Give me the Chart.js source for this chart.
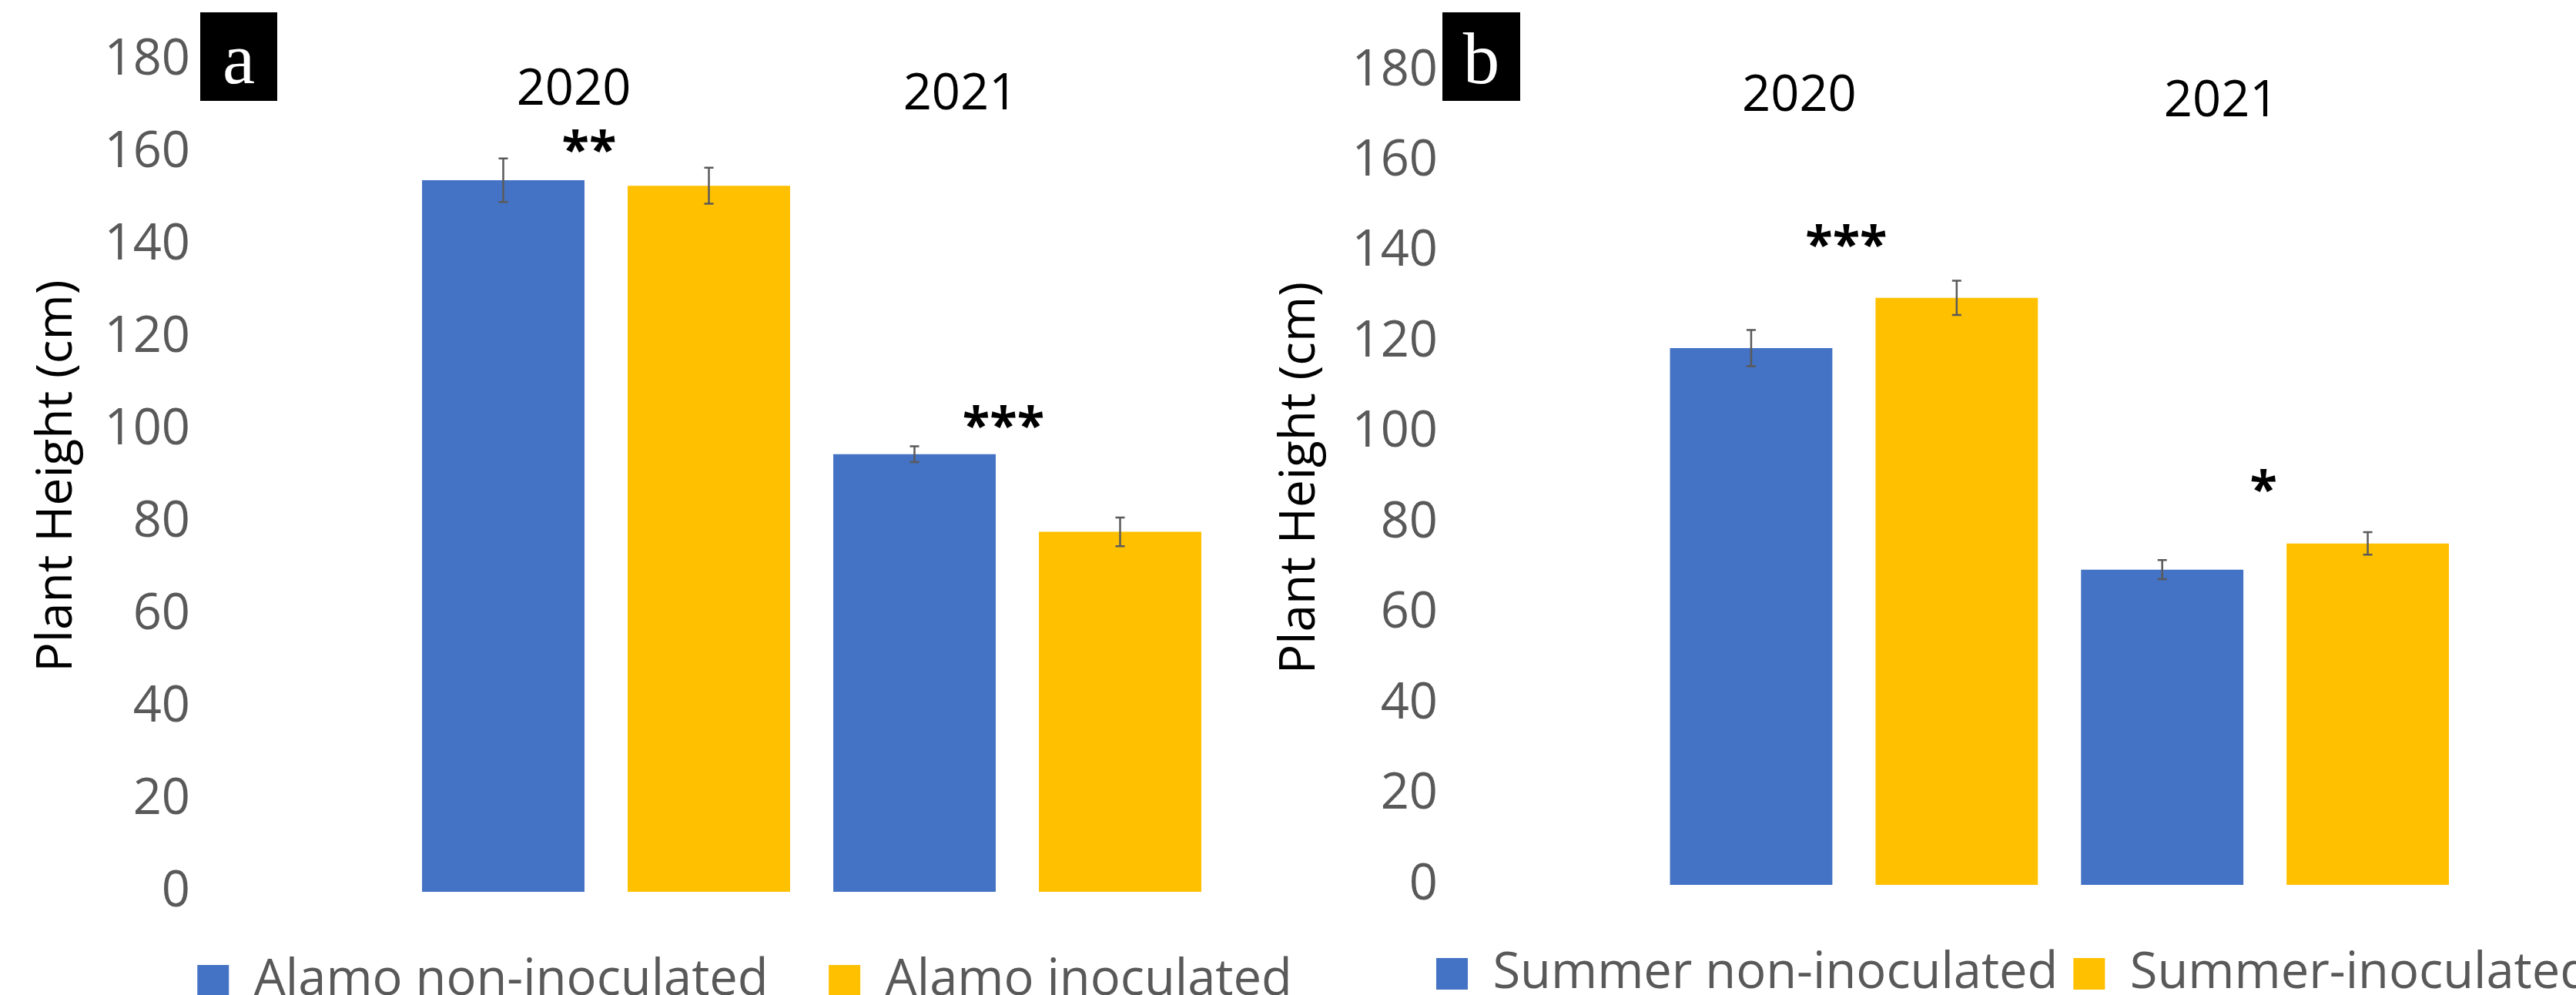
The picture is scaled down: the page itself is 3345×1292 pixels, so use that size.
<!DOCTYPE html>
<html>
<head>
<meta charset="utf-8">
<title>Plant Height</title>
<script src="https://cdn.jsdelivr.net/npm/chart.js@4.4.1/dist/chart.umd.min.js"></script>
<style>
  html, body { margin: 0; padding: 0; background: #ffffff; overflow: hidden; width: 3345px; height: 1292px; }
  canvas { position: absolute; top: 0; }
  #chartA { left: 0; }
  #chartB { left: 1640px; }
</style>
</head>
<body>
<canvas id="chartA" width="1934" height="1316"></canvas>
<canvas id="chartB" width="1949" height="1307"></canvas>
<script>
// Plant height means (cm) with standard errors, by year
const years = ['2020', '2021'];

const alamoNonInoculated    = [154.0, 94.7];
const alamoNonInoculatedSE  = [4.7, 1.7];
const alamoInoculated       = [152.8, 77.9];
const alamoInoculatedSE     = [3.9, 3.1];

const summerNonInoculated   = [118.7, 69.7];
const summerNonInoculatedSE = [4.0, 2.1];
const summerInoculated      = [129.8, 75.5];
const summerInoculatedSE    = [3.8, 2.5];

// significance markers per year and the height (cm) they sit at
const alamoSignif       = ['**', '***'];
const alamoSignifAt     = [162.5, 102.7];
const summerSignif      = ['***', '*'];
const summerSignifAt    = [143.4, 89.3];

const yMin = 0, yMax = 180, yStep = 20;

const BLUE = '#4472C4';
const GOLD = '#FFC000';
const FONT = '"Open Sans"';

// draws text so that its ink is centred on (x, y)
function fillCentered(ctx, text, x, y) {
  const m = ctx.measureText(text);
  ctx.fillText(text, x, y + (m.actualBoundingBoxAscent - m.actualBoundingBoxDescent) / 2);
}

// error bars, year captions, significance stars and the panel tag
const panelMarks = {
  id: 'panelMarks',
  afterDatasetsDraw(chart, args, opts) {
    const ctx = chart.ctx;
    const xs = chart.scales.x, ys = chart.scales.y;
    ctx.save();

    ctx.strokeStyle = opts.errorColor;
    ctx.lineWidth = opts.errorWidth;
    chart.data.datasets.forEach((ds, di) => {
      const meta = chart.getDatasetMeta(di);
      meta.data.forEach((bar, i) => {
        const v = ds.data[i], e = ds.errors[i];
        const top = ys.getPixelForValue(v + e);
        const bot = ys.getPixelForValue(v - e);
        const cap = opts.capHalf;
        ctx.beginPath();
        ctx.moveTo(bar.x, top); ctx.lineTo(bar.x, bot);
        ctx.moveTo(bar.x - cap, top); ctx.lineTo(bar.x + cap, top);
        ctx.moveTo(bar.x - cap, bot); ctx.lineTo(bar.x + cap, bot);
        ctx.stroke();
      });
    });

    ctx.fillStyle = '#000000';
    ctx.textAlign = 'center';
    ctx.textBaseline = 'alphabetic';
    ctx.font = `${opts.captionSize}px ${FONT}`;
    chart.data.labels.forEach((lab, i) => {
      const c = opts.captions[i];
      fillCentered(ctx, lab, xs.getPixelForValue(i) + c.dx, ys.getPixelForValue(c.at));
    });

    ctx.font = `bold ${opts.captionSize}px ${FONT}`;
    opts.stars.forEach((s, i) => {
      fillCentered(ctx, s, xs.getPixelForValue(i) + opts.starDx[i], ys.getPixelForValue(opts.starAt[i]));
    });

    const t = opts.tag;
    ctx.fillStyle = '#000000';
    ctx.fillRect(t.x, t.y, t.w, t.h);
    ctx.fillStyle = '#ffffff';
    ctx.font = `${t.size}px "Liberation Serif", "DejaVu Serif", serif`;
    ctx.textAlign = 'center';
    ctx.fillText(t.text, t.x + t.w / 2, t.baseline);
    ctx.restore();
  }
};

function buildChart(canvasId, p) {
  return new Chart(document.getElementById(canvasId), {
    type: 'bar',
    data: {
      labels: years,
      datasets: [
        { label: p.names[0], data: p.series[0], errors: p.errors[0], backgroundColor: BLUE, borderWidth: 0 },
        { label: p.names[1], data: p.series[1], errors: p.errors[1], backgroundColor: GOLD, borderWidth: 0 }
      ]
    },
    options: {
      responsive: false,
      animation: false,
      devicePixelRatio: 1,
      categoryPercentage: 1.0,
      barPercentage: 0.79,
      layout: { padding: { top: p.top, left: 0, right: 0, bottom: 0 } },
      scales: {
        x: {
          display: true,
          grid: { display: false, drawTicks: false },
          border: { display: false },
          ticks: { display: false },
          afterFit: s => { s.height = p.footGap; }
        },
        y: {
          position: 'left',
          min: yMin, max: yMax,
          grid: { display: false, drawTicks: false },
          border: { display: false },
          ticks: { stepSize: yStep, color: '#595959', padding: p.tickPad, font: { family: FONT, size: 65 } },
          title: {
            display: true, text: 'Plant Height (cm)', color: '#000000',
            font: { family: FONT, size: 64 }, padding: { top: p.titlePad, bottom: 0 }
          },
          afterFit: s => { s.width = p.axisWidth; s.paddingTop = 40; s.paddingBottom = 40; }
        },
        gutter: {
          position: 'right',
          display: true,
          grid: { display: false, drawTicks: false },
          border: { display: false },
          ticks: { display: false },
          afterFit: s => { s.width = p.gutter; }
        }
      },
      plugins: {
        tooltip: { enabled: false },
        legend: {
          position: 'bottom',
          labels: {
            boxWidth: 41, boxHeight: 41, padding: p.legendPad,
            color: '#595959', font: { family: FONT, size: 65 }
          }
        },
        panelMarks: {
          errorColor: '#5a5a5a', errorWidth: 2.5, capHalf: 6,
          captionSize: 65,
          captions: p.captions,
          stars: p.stars, starAt: p.starAt, starDx: p.starDx,
          tag: p.tag
        }
      }
    },
    plugins: [panelMarks]
  });
}

function drawAll() {
  buildChart('chartA', {
    names: ['Alamo non-inoculated', 'Alamo inoculated'],
    series: [alamoNonInoculated, alamoInoculated],
    errors: [alamoNonInoculatedSE, alamoInoculatedSE],
    top: 78, axisWidth: 520, tickPad: 273, gutter: 346, titlePad: 36, legendPad: 78.5, footGap: 4.5,
    captions: [{ dx: -42, at: 174.2 }, { dx: -74, at: 173.3 }],
    stars: alamoSignif, starAt: alamoSignifAt, starDx: [-22, -18],
    tag: { text: 'a', x: 260, y: 16, w: 100, h: 115, size: 95, baseline: 108 }
  });
  buildChart('chartB', {
    names: ['Summer non-inoculated', 'Summer-inoculated'],
    series: [summerNonInoculated, summerInoculated],
    errors: [summerNonInoculatedSE, summerInoculatedSE],
    top: 92, axisWidth: 500.5, tickPad: 273.5, gutter: 381, titlePad: 10, legendPad: 20, footGap: 63,
    captions: [{ dx: -71, at: 175.1 }, { dx: -57, at: 173.9 }],
    stars: summerSignif, starAt: summerSignifAt, starDx: [-10, -2],
    tag: { text: 'b', x: 233, y: 16, w: 101, h: 115, size: 95, baseline: 108 }
  });
}

if (document.fonts && document.fonts.load) {
  Promise.all([
    document.fonts.load('65px "Open Sans"'),
    document.fonts.load('bold 65px "Open Sans"'),
    document.fonts.load('95px "Liberation Serif"')
  ]).then(drawAll, drawAll);
} else {
  drawAll();
}
</script>
</body>
</html>
